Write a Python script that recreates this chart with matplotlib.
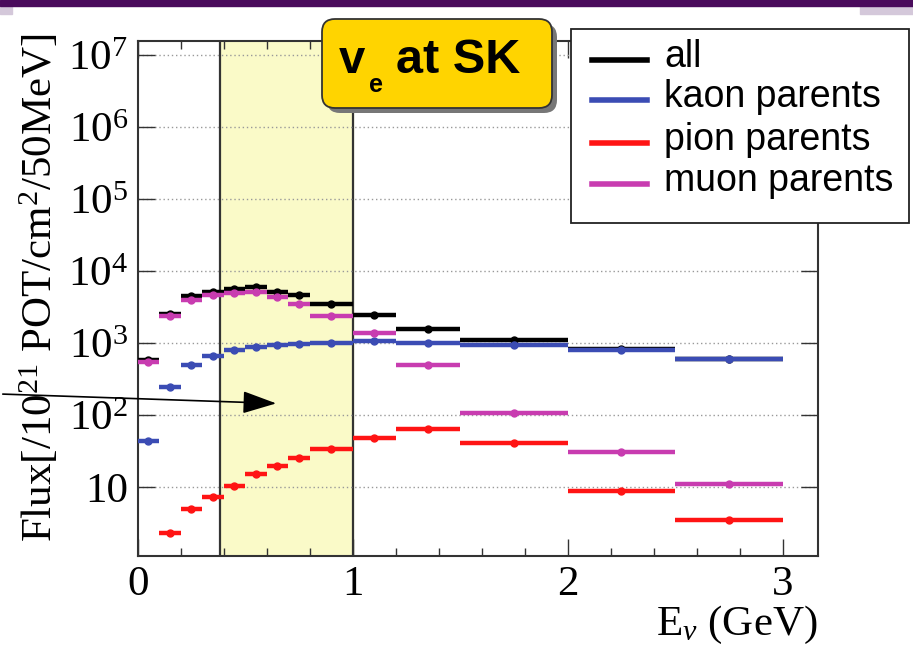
import numpy as np
import matplotlib
matplotlib.use("Agg")
import matplotlib.pyplot as plt
from matplotlib.patches import Rectangle, FancyBboxPatch, FancyArrowPatch
from matplotlib.lines import Line2D
from matplotlib.ticker import FixedLocator, FixedFormatter, LogLocator, MultipleLocator, NullFormatter

plt.rcParams['mathtext.fontset'] = 'custom'
plt.rcParams['mathtext.rm'] = 'Liberation Serif'
plt.rcParams['mathtext.it'] = 'Liberation Serif:italic'
plt.rcParams['mathtext.bf'] = 'Liberation Serif:bold'

# energy bins (GeV)
bin_edges = [0.0, 0.1, 0.2, 0.3, 0.4, 0.5, 0.6, 0.7, 0.8, 1.0, 1.2, 1.5, 2.0, 2.5, 3.0]

# flux per bin
all_flux = [580, 2570, 4510, 5180, 5630, 5940, 5180, 4650, 3530, 2430, 1560, 1100, 820, 600]
kaon_flux = [44, 247, 494, 673, 798, 886, 955, 960, 1007, 1074, 1019, 935, 798, 598]
pion_flux = [0.6, 2.3, 5.0, 7.4, 10.4, 15.1, 19.7, 25.7, 33.6, 47.7, 64.9, 41.5, 9.0, 3.5]
muon_flux = [550, 2380, 4020, 4710, 5010, 5050, 4320, 3490, 2410, 1386, 494, 109, 30.9, 11.0]

series = [("all", all_flux, "black"),
          ("kaon parents", kaon_flux, "#3b4cb4"),
          ("pion parents", pion_flux, "#ff1414"),
          ("muon parents", muon_flux, "#c83cb0")]

ytick_vals = [10, 1e2, 1e3, 1e4, 1e5, 1e6, 1e7]
ytick_labels = ["10", "$10^{2}$", "$10^{3}$", "$10^{4}$", "$10^{5}$", "$10^{6}$", "$10^{7}$"]
xtick_vals = [0, 1, 2, 3]
xtick_labels = ["0", "1", "2", "3"]

W, H = 913, 647
fig = plt.figure(figsize=(W / 100, H / 100), dpi=100)
pix = fig.dpi_scale_trans


def px(x, y):
    # pixel position (top-left origin) -> inches for dpi_scale_trans
    return x / 100.0, (H - y) / 100.0


ax = fig.add_axes([137.7 / W, 1 - 556 / H, (818 - 137.7) / W, (556 - 41) / H])
ax.set_yscale('log')
ax.set_xlim(0, 3.165)
ax.set_ylim(1.113, 1.56e7)

# shaded energy window
ax.axvspan(0.385, 1.0, color='#fafac8', zorder=0.5)
ax.axvline(0.385, color='#333333', lw=1.6, zorder=1)
ax.axvline(1.0, color='#333333', lw=1.6, zorder=1)

edges = np.array(bin_edges)
centers = 0.5 * (edges[1:] + edges[:-1])
half = 0.5 * (edges[1:] - edges[:-1])
for i, (name, vals, col) in enumerate(series):
    ax.errorbar(centers, vals, xerr=half, fmt='o', ms=5, color=col,
                elinewidth=3.2, capsize=0, zorder=3 + i)

ax.yaxis.set_major_locator(FixedLocator(ytick_vals))
ax.yaxis.set_major_formatter(FixedFormatter(ytick_labels))
ax.yaxis.set_minor_locator(LogLocator(base=10, subs=np.arange(2, 10)))
ax.yaxis.set_minor_formatter(NullFormatter())
ax.xaxis.set_major_locator(FixedLocator(xtick_vals))
ax.xaxis.set_major_formatter(FixedFormatter(xtick_labels))
ax.xaxis.set_minor_locator(MultipleLocator(0.2))

ax.tick_params(which='both', direction='in', top=True, right=True, width=1, color='#333333')
ax.tick_params(which='major', length=12, labelsize=31, pad=7)
ax.tick_params(which='minor', length=6)
for lab in ax.get_xticklabels() + ax.get_yticklabels():
    lab.set_family('Liberation Serif')
for s in ax.spines.values():
    s.set_linewidth(1.5)
    s.set_color('#333333')
ax.yaxis.grid(True, which='major', linestyle=(0, (1, 2)), color='#999999', lw=1)

fig.text(40 / W, 1 - 288 / H, r"Flux[/10$^{21}$ POT/cm$^{2}$/50MeV]", rotation=90,
         ha='center', va='center', fontsize=31, family='Liberation Serif')
fig.text(818 / W, 1 - 635 / H, r"E$_{\nu}$ (GeV)", ha='right', va='baseline',
         fontsize=31, family='Liberation Serif')

# slide header decoration
fig.patches.append(Rectangle(px(0, 6), W / 100, 0.06, transform=pix, color='#4a0b5c', zorder=10))
fig.patches.append(Rectangle(px(860, 14), 0.53, 0.08, transform=pix, color='#d4c8da', zorder=9))
fig.patches.append(Rectangle(px(0, 14), 0.12, 0.08, transform=pix, color='#d4c8da', zorder=9))

# arrow
fig.patches.append(FancyArrowPatch(px(0, 394), px(279, 403.5), transform=pix,
                                   arrowstyle='-|>,head_length=2.1,head_width=0.7',
                                   mutation_scale=10, lw=1.2, color='black', zorder=20))

# title box
bx0, by0, bx1, by1 = 322, 19, 552, 108
fig.patches.append(FancyBboxPatch(px(bx0 + 5, by1 + 5), (bx1 - bx0) / 100, (by1 - by0) / 100,
                                  boxstyle='round,pad=0,rounding_size=0.13', transform=pix,
                                  facecolor='#777777', edgecolor='none', zorder=20))
fig.patches.append(FancyBboxPatch(px(bx0, by1), (bx1 - bx0) / 100, (by1 - by0) / 100,
                                  boxstyle='round,pad=0,rounding_size=0.13', transform=pix,
                                  facecolor='#ffd400', edgecolor='#333333', lw=1.3, zorder=21))
fig.text(*px(339, 73), "v", transform=pix, fontsize=34, weight='bold',
         family='Liberation Sans', va='baseline', zorder=22)
fig.text(*px(369, 92), "e", transform=pix, fontsize=18, weight='bold',
         family='Liberation Sans', va='baseline', zorder=22)
fig.text(*px(396, 73), "at SK", transform=pix, fontsize=35, weight='bold',
         family='Liberation Sans', va='baseline', zorder=22)

# legend box
lx0, ly0, lx1, ly1 = 571, 29, 909, 223
fig.patches.append(Rectangle(px(lx0, ly1), (lx1 - lx0) / 100, (ly1 - ly0) / 100, transform=pix,
                             facecolor='white', edgecolor='#222222', lw=1.3, zorder=20))
row_y = [60, 100, 143, 184]
for (name, vals, col), ry in zip(series, row_y):
    (x0, y0), (x1, _) = px(592, ry), px(647, ry)
    fig.lines.append(Line2D([x0, x1], [y0, y0], transform=pix, color=col, lw=4, zorder=21))
    fig.text(*px(664, ry + 7), name, transform=pix, fontsize=27, family='Liberation Sans',
             va='baseline', zorder=22)

fig.savefig("out.png", dpi=100)
